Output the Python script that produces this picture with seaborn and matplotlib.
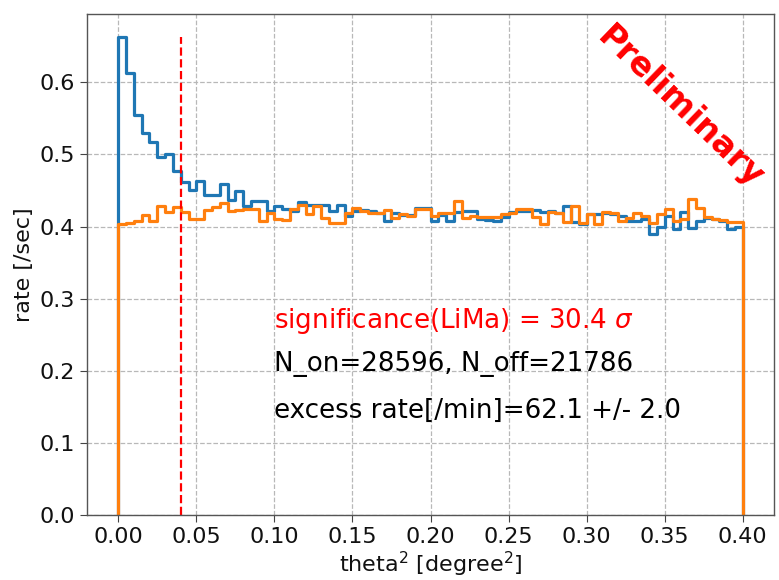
import numpy as np
import pandas as pd
import matplotlib
matplotlib.use("Agg")
import matplotlib.pyplot as plt
import seaborn as sns

# theta^2 histogram, 80 bins of 0.005 between 0 and 0.4
theta2_lo = 0.0
theta2_hi = 0.4
n_bins = 80

# ON region rate [/sec]
rate_on = [
    0.662, 0.613, 0.554, 0.530, 0.517, 0.496, 0.500, 0.477, 0.461, 0.450,
    0.463, 0.443, 0.443, 0.459, 0.437, 0.449, 0.428, 0.436, 0.436, 0.421,
    0.428, 0.424, 0.422, 0.434, 0.430, 0.430, 0.430, 0.421, 0.430, 0.415,
    0.421, 0.423, 0.422, 0.419, 0.407, 0.419, 0.416, 0.416, 0.426, 0.426,
    0.407, 0.416, 0.407, 0.420, 0.421, 0.421, 0.411, 0.409, 0.407, 0.413,
    0.420, 0.421, 0.421, 0.423, 0.420, 0.421, 0.419, 0.428, 0.406, 0.403,
    0.417, 0.418, 0.419, 0.417, 0.414, 0.407, 0.407, 0.411, 0.389, 0.400,
    0.414, 0.397, 0.420, 0.398, 0.407, 0.412, 0.410, 0.407, 0.396, 0.400,
]

# OFF region rate [/sec]
rate_off = [
    0.403, 0.405, 0.407, 0.416, 0.407, 0.429, 0.420, 0.427, 0.420, 0.410,
    0.411, 0.423, 0.427, 0.433, 0.421, 0.423, 0.424, 0.424, 0.407, 0.419,
    0.410, 0.409, 0.424, 0.430, 0.417, 0.428, 0.412, 0.405, 0.405, 0.419,
    0.426, 0.421, 0.419, 0.419, 0.423, 0.412, 0.418, 0.414, 0.424, 0.424,
    0.414, 0.419, 0.419, 0.436, 0.412, 0.414, 0.413, 0.413, 0.413, 0.417,
    0.419, 0.424, 0.424, 0.413, 0.403, 0.420, 0.419, 0.406, 0.428, 0.405,
    0.417, 0.403, 0.420, 0.419, 0.407, 0.412, 0.419, 0.414, 0.405, 0.417,
    0.424, 0.407, 0.410, 0.438, 0.425, 0.413, 0.410, 0.409, 0.406, 0.406,
]

theta2_cut = 0.04
stat_lines = [
    "significance(LiMa) = 30.4 $\\sigma$",
    "N_on=28596, N_off=21786",
    "excess rate[/min]=62.1 +/- 2.0",
]
stat_y = [0.26, 0.2, 0.135]
stat_colors = ["red", "black", "black"]

edges = np.linspace(theta2_lo, theta2_hi, n_bins + 1)
centers = 0.5 * (edges[:-1] + edges[1:])
df_on = pd.DataFrame({"theta2": centers, "rate": rate_on})
df_off = pd.DataFrame({"theta2": centers, "rate": rate_off})

sns.set_style("ticks")
plt.rcParams["font.family"] = ["DejaVu Sans"]

fig = plt.figure(figsize=(7.79, 5.80), dpi=100)
ax = fig.add_axes([0.1117, 0.1116, 0.9936 - 0.1117, 0.9767 - 0.1116])

blue = "#1f77b4"
orange = "#ff7f0e"

for df, col in [(df_on, blue), (df_off, orange)]:
    sns.histplot(data=df, x="theta2", weights="rate", bins=list(edges), element="step",
                 fill=False, color=col, linewidth=2.3, ax=ax)
    # close the step outline down to zero at both ends
    ax.vlines([edges[0], edges[-1]], 0, [df["rate"].iloc[0], df["rate"].iloc[-1]],
              color=col, linewidth=2.3)

ax.vlines(theta2_cut, 0, df_on["rate"].max(), color="red", linestyle="--", linewidth=1.6)

for txt, yy, col in zip(stat_lines, stat_y, stat_colors):
    ax.text(0.1, yy, txt, color=col, fontsize=18.8)

ax.text(0.360, 0.565, "Preliminary", color="red", fontsize=24, fontweight="bold",
        rotation=-44, ha="center", va="center", rotation_mode="anchor")

ax.set_xlim(-0.02, 0.42)
ax.set_ylim(0, df_on["rate"].max() * 1.05)
ax.set_xticks(np.arange(0, 0.41, 0.05))
ax.set_yticks(np.arange(0, 0.61, 0.1))
ax.xaxis.set_major_formatter(matplotlib.ticker.FormatStrFormatter("%.2f"))
ax.yaxis.set_major_formatter(matplotlib.ticker.FormatStrFormatter("%.1f"))
ax.tick_params(labelsize=16, color="#444444", length=5, labelcolor="#111111")
ax.grid(True, linestyle="--", color="#b8b8b8", linewidth=0.9)
for sp in ax.spines.values():
    sp.set_visible(True)
    sp.set_color("#555555")
    sp.set_linewidth(1)

ax.set_xlabel("theta$^2$ [degree$^2$]", fontsize=16, labelpad=2, color="#111111")
ax.set_ylabel("rate [/sec]", fontsize=16, labelpad=4, color="#111111")

fig.savefig("out.png", dpi=100)
